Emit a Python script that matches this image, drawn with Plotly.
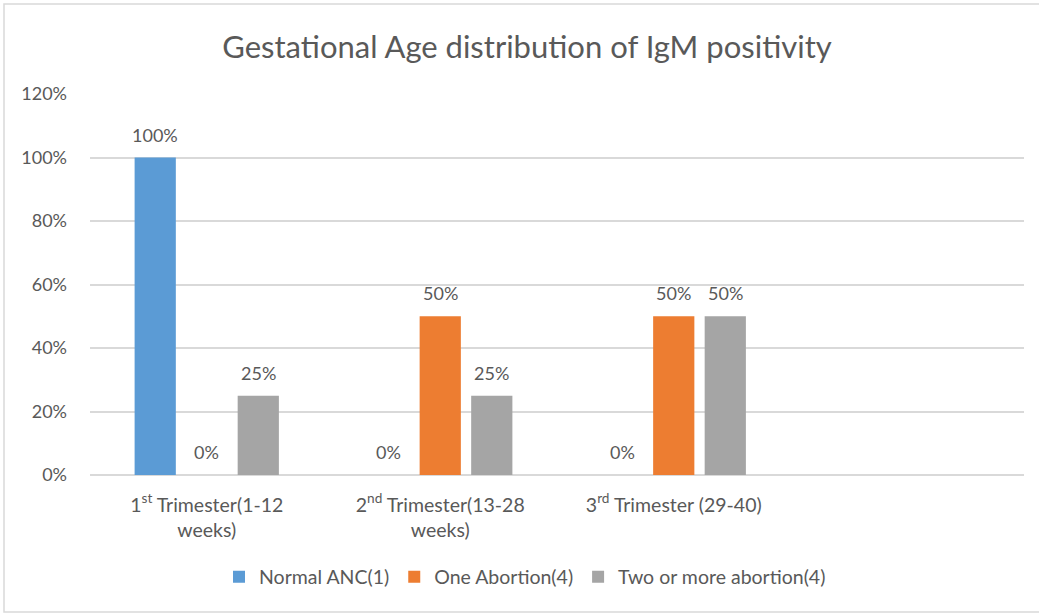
import plotly.graph_objects as go

# Gestational age groups (fourth slot left empty, as in the original layout)
categories = [
    "1<sup>st</sup> Trimester(1-12<br>weeks)",
    "2<sup>nd</sup> Trimester(13-28<br>weeks)",
    "3<sup>rd</sup> Trimester (29-40)",
    " ",
]

normal_anc = [1.00, 0.00, 0.00, None]
one_abortion = [0.00, 0.50, 0.50, None]
two_or_more = [0.25, 0.25, 0.50, None]

series_names = ["Normal ANC(1)", "One Abortion(4)", "Two or more abortion(4)"]
series_colors = ["#5B9BD5", "#ED7D31", "#A5A5A5"]

y_ticks = [0, 0.2, 0.4, 0.6, 0.8, 1.0, 1.2]

text_color = "#595959"
grid_color = "#D9D9D9"
font_family = "Lato, 'Open Sans', sans-serif"

BARGAP = 0.338
all_series = [normal_anc, one_abortion, two_or_more]
n_series = len(all_series)
slot = (1 - BARGAP) / n_series  # width of one bar slot in category units

fig = go.Figure()
annotations = []
for j, (name, values, color) in enumerate(zip(series_names, all_series, series_colors)):
    fig.add_trace(go.Bar(
        x=list(range(len(categories))),
        y=values,
        name=name,
        marker=dict(color=color, line=dict(width=0)),
        hoverinfo="name+y",
    ))
    # value labels sitting a little above each bar
    for i, v in enumerate(values):
        if v is None:
            continue
        annotations.append(dict(
            x=i + (j - (n_series - 1) / 2) * slot,
            y=v,
            xref="x", yref="y",
            text=f"{v:.0%}",
            showarrow=False,
            yanchor="bottom",
            yshift=10,
            font=dict(size=18, color=text_color, family=font_family),
        ))

W, H = 1039, 613
L, R, T, B = 90, 15, 94, 138
pw, ph = W - L - R, H - T - B

def px_x(p):
    return (p - L) / pw

def px_y(p):
    return (H - B - p) / ph

fig.update_layout(
    width=W, height=H,
    margin=dict(l=L, r=R, t=T, b=B),
    paper_bgcolor="white",
    plot_bgcolor="white",
    font=dict(family=font_family, color=text_color, size=18),
    title=dict(
        text="Gestational Age distribution of IgM positivity",
        font=dict(size=31, color=text_color, family=font_family),
        x=px_x(527), xref="paper", xanchor="center",
        y=1 - 47 / H, yanchor="middle",
    ),
    barmode="group",
    bargap=BARGAP,
    bargroupgap=0.2,
    showlegend=True,
    legend=dict(
        orientation="h",
        x=px_x(525), xanchor="center",
        y=px_y(577), yanchor="middle",
        font=dict(size=19.5, color=text_color, family=font_family),
        itemwidth=30,
        traceorder="normal",
    ),
    xaxis=dict(
        tickmode="array",
        tickvals=list(range(len(categories))),
        ticktext=categories,
        range=[-0.5, len(categories) - 0.5],
        showgrid=False,
        showline=False,
        zeroline=False,
        ticks="",
        ticklabelstandoff=16,
        tickfont=dict(size=19.5, color=text_color),
    ),
    yaxis=dict(
        range=[0, 1.2],
        tickvals=y_ticks,
        tickformat=".0%",
        showgrid=True,
        gridcolor=grid_color,
        gridwidth=1.5,
        zeroline=True,
        zerolinecolor=grid_color,
        zerolinewidth=2,
        showline=False,
        ticks="",
        ticklabelstandoff=22,
        tickfont=dict(size=18, color=text_color),
    ),
    annotations=annotations,
    shapes=[dict(
        type="rect", xref="paper", yref="paper",
        x0=px_x(4), x1=px_x(1045), y0=px_y(612), y1=px_y(4),
        line=dict(color=grid_color, width=1.5),
        fillcolor="rgba(0,0,0,0)",
        layer="below",
    )],
)

fig.write_html("out.html")
